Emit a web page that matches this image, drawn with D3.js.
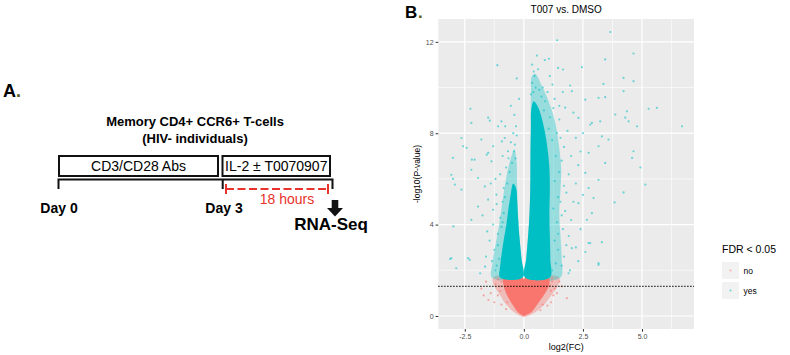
<!DOCTYPE html>
<html>
<head>
<meta charset="utf-8">
<script src="https://cdn.jsdelivr.net/npm/d3@7"></script>
<style>
  body { margin: 0; background: #fff; }
  svg { font-family: "Liberation Sans", Arial, sans-serif; }
</style>
</head>
<body>
<svg id="fig" width="790" height="355"></svg>
<script>
// ---- data ----
const xTicks = [-2.5, 0, 2.5, 5];
const xMinor = [-1.25, 1.25, 3.75, 6.25];
const yTicks = [0, 4, 8, 12];
const yMinor = [2, 6, 10];
const pCut = 1.3; // -log10(0.05)
const legendLevels = ["no", "yes"];

// dense cores of the volcano (outlines, log2FC / -log10 p)
const redCore = [[0,0],[0.12,0.05],[0.35,0.2],[0.5,0.4],[0.7,0.7],[0.9,1.0],[1.05,1.3],[1.05,1.68],[0.05,1.68],[0,0.75],[-0.05,1.68],[-0.85,1.68],[-0.85,1.3],[-0.75,1.0],[-0.6,0.7],[-0.42,0.4],[-0.28,0.2],[-0.1,0.05]];
const redHalo = [[0,-0.05],[0.3,0.05],[0.6,0.25],[0.9,0.55],[1.2,0.95],[1.45,1.35],[1.5,1.68],[0.05,1.68],[0,0.75],[-0.05,1.68],[-1.3,1.68],[-1.25,1.3],[-1.0,0.9],[-0.75,0.5],[-0.45,0.2],[-0.2,0.02]];
const leftCore = [[-0.05,1.68],[-1.0,1.68],[-1.0,2.2],[-0.93,2.8],[-0.84,3.4],[-0.74,4.0],[-0.65,4.7],[-0.56,5.3],[-0.45,5.8],[-0.33,5.6],[-0.28,5.0],[-0.25,4.4],[-0.19,3.5],[-0.1,2.5]];
const leftHalo = [[-0.05,1.68],[-1.35,1.68],[-1.33,2.3],[-1.22,3.0],[-1.08,3.8],[-0.96,4.6],[-0.85,5.4],[-0.72,6.2],[-0.55,6.9],[-0.4,7.3],[-0.31,6.8],[-0.29,6.0],[-0.26,4.8],[-0.2,3.6],[-0.1,2.5]];
const rightCore = [[0.05,1.68],[1.1,1.68],[1.12,2.5],[1.1,3.5],[1.08,4.5],[1.1,5.5],[1.08,6.5],[0.98,7.5],[0.82,8.4],[0.62,9.1],[0.42,9.4],[0.31,9.0],[0.3,8.3],[0.28,7.0],[0.27,5.5],[0.24,4.5],[0.18,3.5],[0.1,2.5]];
const rightHalo = [[0.05,1.68],[1.55,1.68],[1.6,2.5],[1.55,3.5],[1.5,4.5],[1.55,5.5],[1.58,6.5],[1.48,7.5],[1.32,8.5],[1.05,9.4],[0.75,10.1],[0.48,10.6],[0.34,10.5],[0.3,9.8],[0.29,8.5],[0.28,7.0],[0.27,5.5],[0.24,4.5],[0.18,3.5],[0.1,2.5]];

// scattered genes outside the dense cores
const yesPoints = [
  [-1.12,10.98],[1.41,12.07],[0.89,11.2],[1.06,11.26],[1.45,10.86],[1.66,10.79],[1.21,10.13],[-2.26,9.07],[-2.22,8.45],[-1.44,8.55],
  [-1.51,8.68],[3.66,12.43],[4.64,11.49],[3.44,11.23],[2.46,10.89],[4.22,10.42],[4.64,10.28],[3.37,10.16],[4.22,9.84],[5.28,9.07],
  [5.63,9.11],[1.96,10.09],[2.03,9.84],[2.6,9.47],[3.16,9.55],[3.44,9.58],[3.87,8.82],[4.36,8.96],[4.29,8.68],[3.23,8.52],
  [2.88,8.45],[2.31,8.67],[1.75,9.12],[2.81,8.38],[4.43,8.52],[4.79,8.3],[6.69,8.3],[4.64,7.21],[4.58,6.92],[4.93,6.5],
  [5.14,5.75],[4.22,5.41],[3.84,4.97],[3.3,7.86],[3.58,7.72],[3.16,7.43],[3.44,6.7],[2.74,7.14],[2.95,5.16],[2.88,4.5],
  [2.67,4.21],[3.16,5.96],[2.6,6.26],[2.74,5.6],[2.31,4.94],
  [-2.64,7.79],[-2.57,7.43],[-3.0,6.92],[-3.07,6.18],[-3.0,6.0],[-2.92,5.75],[-2.64,5.53],[-2.08,6.84],[-2.22,6.4],[-1.94,6.04],
  [-1.8,7.72],[-1.51,7.14],[-1.37,6.77],[-1.3,7.43],[-1.09,8.3],[-0.95,8.52],[-0.81,7.79],[-0.67,7.21],[-1.65,5.67],[-1.51,5.09],
  [-1.94,4.79],[-1.3,4.65],[-1.16,5.31],[-2.22,4.21],[-2.42,7.36],[-2.2,6.84],[-1.57,7.06],[-0.93,7.64],[-0.79,8.3],[-2.98,3.92],
  [-3.07,2.53],[-2.86,2.09],[-2.36,2.53],[-2.29,2.46],[-3.12,2.49],[-1.85,1.87],[-1.64,2.16],[3.16,2.31],[2.74,3.19],[2.03,2.97],
  [1.89,1.87],[3.3,3.23],[3.16,2.24],[2.81,3.19],
  [0.45,10.5],[0.6,10.8],[0.35,11.0],[0.55,11.4],[0.8,10.0],[1.0,9.8],[0.75,9.6],[1.3,9.5],[1.5,9.2],[0.4,9.8],
  [1.1,10.5],[-0.3,10.4],[-0.55,9.2],[-0.4,8.8],[-0.2,9.5],
  [1.6,2.2],[1.7,2.6],[1.8,3.1],[1.9,3.5],[1.65,3.8],[2.0,4.2],[1.75,4.6],[2.1,5.0],[1.8,5.4],[2.2,5.8],
  [1.9,6.2],[2.3,6.6],[2.0,7.0],[1.7,7.4],[2.2,7.8],[1.85,8.1],[2.5,8.0],[2.4,7.2],[2.5,5.3],[2.4,3.8],
  [2.2,3.0],[2.3,2.4],[1.95,2.0],[2.6,2.8],[1.6,6.8],[1.55,5.0],[1.5,8.6],[2.1,8.9],[1.65,9.8],
  [-1.2,2.0],[-1.35,2.4],[-1.25,2.9],[-1.45,3.3],[-1.1,3.6],[-1.3,4.0],[-1.0,4.3],[-1.15,4.9],[-0.9,5.0],[-0.85,5.6],
  [-1.0,6.2],[-0.75,6.5],[-0.65,6.9],[-1.6,2.6],[-1.55,3.7],[-1.75,4.4],[-0.9,7.0],[-0.55,7.6],[-0.45,8.0],[-1.2,6.0],[-1.4,5.8],
  [1.2,2.0],[1.35,2.3],[1.45,2.9],[1.3,3.3],[1.4,4.1],[1.25,4.7],[1.45,5.2],[1.3,5.9],[1.5,6.3],[1.35,7.0],
  [1.2,7.7],[1.4,8.0],[1.1,8.7],[1.25,9.1],[0.9,9.4],[1.05,8.2],[1.6,4.4],[1.7,5.7],[1.55,7.8],[1.45,3.6],
  [0.35,10.2],[0.5,10.0],[0.65,9.9],[0.42,10.7],[0.3,9.7],[0.85,9.0],
  [-1.05,2.5],[-1.1,3.1],[-0.95,3.9],[-0.85,4.5],[-0.8,5.2],[-0.7,5.8],[-0.6,6.3],[-0.5,6.7],[-0.42,7.2],[-0.35,6.9],
  [-1.15,2.2],[-0.9,4.1],[-0.38,7.5],[-0.3,7.9],[-0.33,8.3]
];
const noPoints = [
  [-1.8,1.2],[-1.6,1.5],[-1.4,1.0],[-1.5,0.7],[-1.2,1.4],[-1.1,0.9],[-1.25,0.6],[-1.0,1.3],[-0.95,0.5],[-1.7,0.9],
  [1.2,1.5],[1.3,1.2],[1.5,1.5],[1.25,0.9],[1.4,1.0],[1.15,0.6],[1.6,1.3],[1.82,0.78],[1.0,0.45],[-0.75,0.3],[0.7,0.25],
  [-1.0,1.1],[-0.95,1.5],[-1.1,1.6],[1.15,1.1],[1.2,1.65],[1.1,1.35],[-0.7,0.6],[0.8,0.5]
];

const RED = "#F8766D", CYAN = "#00BFC4";
const svg = d3.select("#fig");

// ---------------- panel A: study design ----------------
const a = svg.append("g");
a.append("text").attr("x", 3).attr("y", 97).attr("font-size", 18).attr("font-weight", "bold").text("A");
a.append("text").attr("x", 16).attr("y", 97).attr("font-size", 18).attr("font-weight", "bold").attr("fill", "#5b5a1e").text(".");

a.append("text").attr("x", 195).attr("y", 126).attr("text-anchor", "middle")
  .attr("font-size", 13).attr("font-weight", "bold").text("Memory CD4+ CCR6+ T-cells");
a.append("text").attr("x", 195).attr("y", 143).attr("text-anchor", "middle")
  .attr("font-size", 13).attr("font-weight", "bold").text("(HIV- individuals)");

const stages = [
  { label: "CD3/CD28 Abs", x0: 59, x1: 218 },
  { label: "IL-2 ± T0070907", x0: 222.5, x1: 330 }
];
a.selectAll("rect.stage").data(stages).enter().append("rect")
  .attr("x", d => d.x0).attr("y", 156).attr("width", d => d.x1 - d.x0).attr("height", 20)
  .attr("fill", "none").attr("stroke", "#111").attr("stroke-width", 2);
a.selectAll("text.stage").data(stages).enter().append("text")
  .attr("x", d => (d.x0 + d.x1) / 2).attr("y", 171).attr("text-anchor", "middle")
  .attr("font-size", 14).text(d => d.label);

// timeline bracket
a.append("path").attr("d", "M58.5,189 V179.5 H332.5 V189 M222.7,179.5 V189")
  .attr("fill", "none").attr("stroke", "#111").attr("stroke-width", 2);
a.append("line").attr("x1", 226).attr("x2", 328).attr("y1", 189).attr("y2", 189)
  .attr("stroke", "#e8322b").attr("stroke-width", 2).attr("stroke-dasharray", "8,3.5");
a.append("path").attr("d", "M226,184 V194 M328,184 V194")
  .attr("stroke", "#e8322b").attr("stroke-width", 2);
a.append("text").attr("x", 287).attr("y", 203.5).attr("text-anchor", "middle")
  .attr("font-size", 14).attr("fill", "#e8322b").text("18 hours");

a.append("text").attr("x", 59).attr("y", 213).attr("text-anchor", "middle")
  .attr("font-size", 14).attr("font-weight", "bold").text("Day 0");
a.append("text").attr("x", 224).attr("y", 213).attr("text-anchor", "middle")
  .attr("font-size", 14).attr("font-weight", "bold").text("Day 3");
a.append("path").attr("d", "M331.7,200 H338.3 V208 H343 L335,216.5 L327,208 H331.7 Z").attr("fill", "#111");
a.append("text").attr("x", 331).attr("y", 230).attr("text-anchor", "middle")
  .attr("font-size", 17).attr("font-weight", "bold").text("RNA-Seq");

// ---------------- panel B: volcano ----------------
svg.append("text").attr("x", 405).attr("y", 17.5).attr("font-size", 17).attr("font-weight", "bold").text("B");
svg.append("text").attr("x", 418).attr("y", 17.5).attr("font-size", 17).attr("font-weight", "bold").attr("fill", "#5b5a1e").text(".");

const panel = { left: 438.3, right: 694, top: 19, bottom: 329 };
const x = d3.scaleLinear().domain([-3.62, 7.2]).range([panel.left, panel.right]);
const y = d3.scaleLinear().domain([-0.57, 13.0]).range([panel.bottom, panel.top]);

const b = svg.append("g");
b.append("rect").attr("x", panel.left).attr("y", panel.top)
  .attr("width", panel.right - panel.left).attr("height", panel.bottom - panel.top).attr("fill", "#EBEBEB");

b.selectAll("line.vmin").data(xMinor).enter().append("line")
  .attr("x1", d => x(d)).attr("x2", d => x(d)).attr("y1", panel.top).attr("y2", panel.bottom)
  .attr("stroke", "#fff").attr("stroke-width", 0.6);
b.selectAll("line.hmin").data(yMinor).enter().append("line")
  .attr("y1", d => y(d)).attr("y2", d => y(d)).attr("x1", panel.left).attr("x2", panel.right)
  .attr("stroke", "#fff").attr("stroke-width", 0.6);
b.selectAll("line.vmaj").data(xTicks).enter().append("line")
  .attr("x1", d => x(d)).attr("x2", d => x(d)).attr("y1", panel.top).attr("y2", panel.bottom)
  .attr("stroke", "#fff").attr("stroke-width", 1.2);
b.selectAll("line.hmaj").data(yTicks).enter().append("line")
  .attr("y1", d => y(d)).attr("y2", d => y(d)).attr("x1", panel.left).attr("x2", panel.right)
  .attr("stroke", "#fff").attr("stroke-width", 1.2);

const poly = d3.line().x(d => x(d[0])).y(d => y(d[1])).curve(d3.curveCatmullRomClosed.alpha(0.5));

b.append("path").attr("d", poly(redHalo)).attr("fill", RED).attr("opacity", 0.4);
b.append("path").attr("d", poly(leftHalo)).attr("fill", CYAN).attr("opacity", 0.35);
b.append("path").attr("d", poly(rightHalo)).attr("fill", CYAN).attr("opacity", 0.35);
b.append("path").attr("d", poly(redCore)).attr("fill", RED);
b.append("path").attr("d", poly(leftCore)).attr("fill", CYAN);
b.append("path").attr("d", poly(rightCore)).attr("fill", CYAN);

b.selectAll("circle.no").data(noPoints).enter().append("circle")
  .attr("cx", d => x(d[0])).attr("cy", d => y(d[1])).attr("r", 1.1)
  .attr("fill", RED).attr("opacity", 0.6);
b.selectAll("circle.yes").data(yesPoints).enter().append("circle")
  .attr("cx", d => x(d[0])).attr("cy", d => y(d[1])).attr("r", 1.1)
  .attr("fill", CYAN).attr("opacity", 0.55);

b.append("line").attr("x1", panel.left).attr("x2", panel.right)
  .attr("y1", y(pCut)).attr("y2", y(pCut))
  .attr("stroke", "#000").attr("stroke-width", 1.2).attr("stroke-dasharray", "1.2,1.8");

// axes
const xAxis = b.append("g").attr("transform", `translate(0,${panel.bottom})`)
  .call(d3.axisBottom(x).tickValues(xTicks).tickFormat(d => d.toFixed(1)).tickSize(2.7).tickPadding(2));
const yAxis = b.append("g").attr("transform", `translate(${panel.left},0)`)
  .call(d3.axisLeft(y).tickValues(yTicks).tickFormat(d => d).tickSize(2.7).tickPadding(2));
[xAxis, yAxis].forEach(g => {
  g.select(".domain").remove();
  g.selectAll(".tick line").attr("stroke", "#333");
  g.selectAll(".tick text").attr("fill", "#4D4D4D").attr("font-size", 7)
    .attr("font-family", "Liberation Sans, Arial, sans-serif");
});

svg.append("text").attr("x", (panel.left + panel.right) / 2).attr("y", 13).attr("text-anchor", "middle")
  .attr("font-size", 10).text("T007 vs. DMSO");
svg.append("text").attr("x", (panel.left + panel.right) / 2).attr("y", 350).attr("text-anchor", "middle")
  .attr("font-size", 9).text("log2(FC)");
svg.append("text").attr("transform", `translate(419.5,${(panel.top + panel.bottom) / 2}) rotate(-90)`)
  .attr("text-anchor", "middle").attr("font-size", 8.5).text("-log10(P-value)");

// legend
const lg = svg.append("g").attr("transform", "translate(722,0)");
lg.append("text").attr("x", 0).attr("y", 252.5).attr("font-size", 10.5).text("FDR < 0.05");
const items = lg.selectAll("g.item").data(legendLevels).enter().append("g")
  .attr("transform", (d, i) => `translate(0,${262 + i * 20})`);
items.append("rect").attr("width", 17).attr("height", 17).attr("fill", "#F2F2F2");
items.append("circle").attr("cx", 8.5).attr("cy", 8.5).attr("r", 1)
  .attr("fill", (d, i) => i === 0 ? RED : CYAN).attr("opacity", 0.6);
items.append("text").attr("x", 21.5).attr("y", 11.5).attr("font-size", 8.5).text(d => d);
</script>
</body>
</html>
